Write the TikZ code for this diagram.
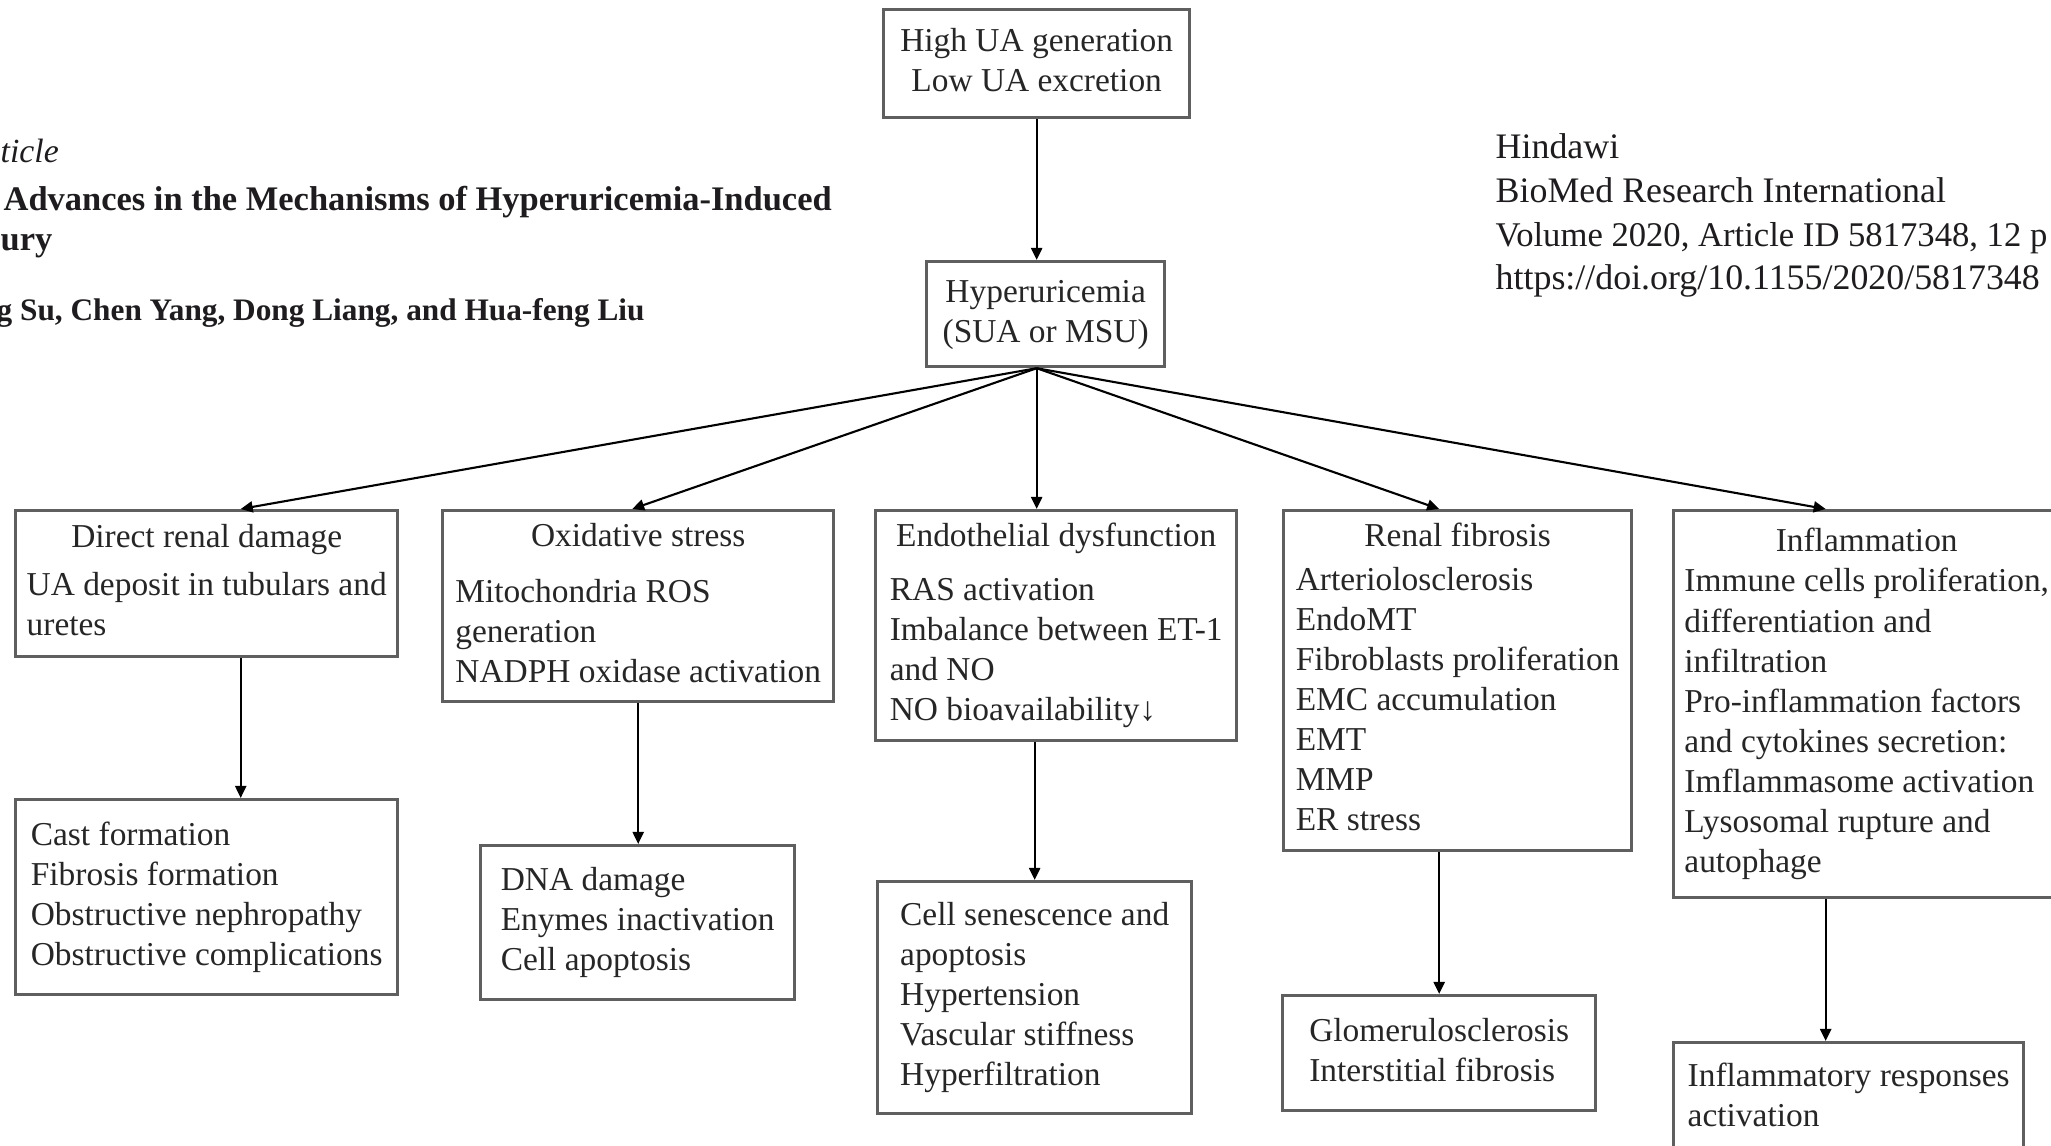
\documentclass[tikz,border=0pt]{standalone}
\usepackage{fontspec}
\setmainfont{Liberation Serif}
\usetikzlibrary{arrows.meta}
\definecolor{boxline}{RGB}{95,95,95}
\definecolor{txt}{RGB}{38,38,38}
\definecolor{pagetxt}{RGB}{30,28,30}
\begin{document}
\begin{tikzpicture}[x=0.01cm,y=-0.01cm,
  box/.style={draw=boxline, line width=0.9pt, inner sep=0pt, anchor=north west,
    font=\fontsize{9.5pt}{11.4pt}\selectfont, text=txt},
  arr/.style={draw=black, line width=0.6pt, -{Triangle[length=1.2mm,width=1.1mm]}},
  pagetext/.style={anchor=base west, inner sep=0pt, text=pagetxt}]
\useasboundingbox (0,0) rectangle (2051,1146);
\clip (0,0) rectangle (2051,1146);
\fill[white] (0,0) rectangle (2051,1146);

% page header text
\node[pagetext, font=\fontsize{9.6pt}{11pt}\selectfont\itshape] (art) at (0,163) {ticle};
\node[pagetext, font=\fontsize{9.8pt}{12pt}\selectfont\bfseries] (ttl) at (3,211) {Advances in the Mechanisms of Hyperuricemia-Induced};
\node[pagetext, font=\fontsize{9.8pt}{12pt}\selectfont\bfseries] (ttl2) at (0,251) {ury};
\node[pagetext, font=\fontsize{8.9pt}{11pt}\selectfont\bfseries] (aut) at (-4,321) {g Su, Chen Yang, Dong Liang, and Hua-feng Liu};
\node[pagetext, font=\fontsize{10.2pt}{12pt}\selectfont] (h1) at (1495,159) {Hindawi};
\node[pagetext, font=\fontsize{10.2pt}{12pt}\selectfont] (h2) at (1495,203) {BioMed Research International};
\node[pagetext, font=\fontsize{9.85pt}{12pt}\selectfont] (h3) at (1495,247) {Volume 2020, Article ID 5817348, 12 p};
\node[pagetext, font=\fontsize{10.2pt}{12pt}\selectfont] (h4) at (1495,290) {https://doi.org/10.1155/2020/5817348};

% boxes
\node[box, minimum width=3.06cm, minimum height=1.08cm] (tp) at (882,8)
  {\begin{tabular}{@{}c@{}}High UA generation\\ Low UA excretion\end{tabular}};
\node[box, minimum width=2.38cm, minimum height=1.05cm] (hy) at (925,260)
  {\begin{tabular}{@{}c@{}}Hyperuricemia\\ (SUA or MSU)\end{tabular}};

\node[box, minimum width=3.82cm, minimum height=1.46cm] (dr) at (14,509)
  {\begin{tabular}{@{}l@{}}\multicolumn{1}{@{}c@{}}{Direct renal damage}\\[2.3pt]
   UA deposit in tubulars and\\ uretes\end{tabular}};
\node[box, minimum width=3.91cm, minimum height=1.91cm] (ox) at (441,509)
  {\begin{tabular}{@{}l@{}}\multicolumn{1}{@{}c@{}}{Oxidative stress}\\[4.5pt]
   Mitochondria ROS\\ generation\\ NADPH oxidase activation\end{tabular}};
\node[box, minimum width=3.61cm, minimum height=2.30cm] (en) at (874,509)
  {\begin{tabular}{@{}l@{}}\multicolumn{1}{@{}c@{}}{Endothelial dysfunction}\\[3.7pt]
   RAS activation\\ Imbalance between ET-1\\ and NO\\ NO bioavailability↓\end{tabular}};
\node[box, minimum width=3.48cm, minimum height=3.40cm] (rf) at (1282,509)
  {\begin{tabular}{@{}l@{}}\multicolumn{1}{@{}c@{}}{Renal fibrosis}\\[1pt]
   Arteriolosclerosis\\ EndoMT\\ Fibroblasts proliferation\\ EMC accumulation\\ EMT\\ MMP\\ ER stress\end{tabular}};
\node[box, minimum width=3.86cm, minimum height=3.87cm] (in) at (1672,509)
  {\begin{tabular}{@{}l@{}}\multicolumn{1}{@{}c@{}}{Inflammation}\\
   Immune cells proliferation,\\ differentiation and\\ infiltration\\ Pro-inflammation factors\\
   and cytokines secretion:\\ Imflammasome activation\\ Lysosomal rupture and\\ autophage\end{tabular}};

\node[box, minimum width=3.82cm, minimum height=1.95cm] (cf) at (14,798)
  {\begin{tabular}{@{}l@{}}Cast formation\\ Fibrosis formation\\ Obstructive nephropathy\\ Obstructive complications\end{tabular}};
\node[box, minimum width=3.14cm, minimum height=1.54cm] (dn) at (479,844)
  {\begin{tabular}{@{}l@{}}DNA damage\\ Enymes inactivation\\ Cell apoptosis\end{tabular}};
\node[box, minimum width=3.14cm, minimum height=2.32cm] (cs) at (876,880)
  {\begin{tabular}{@{}l@{}}Cell senescence and\\ apoptosis\\ Hypertension\\ Vascular stiffness\\ Hyperfiltration\end{tabular}};
\node[box, minimum width=3.13cm, minimum height=1.15cm] (gl) at (1281,994)
  {\begin{tabular}{@{}l@{}}Glomerulosclerosis\\ Interstitial fibrosis\end{tabular}};
\node[box, minimum width=3.50cm, minimum height=1.11cm] (ir) at (1672,1041)
  {\begin{tabular}{@{}l@{}}Inflammatory responses\\ activation\end{tabular}};

% connectors
\draw[arr] (tp.south) -- (tp.south |- hy.north);
\draw[arr] (hy.south -| tp.south) -- ([xshift=0.34cm]dr.north);
\draw[arr] (hy.south -| tp.south) -- ([xshift=-0.06cm]ox.north);
\draw[arr] (hy.south -| tp.south) -- (en.north -| tp.south);
\draw[arr] (hy.south -| tp.south) -- (rf.north -| gl.north);
\draw[arr] (hy.south -| tp.south) -- ([xshift=-0.41cm]in.north);

\draw[arr] ([xshift=0.34cm]dr.south) -- ([xshift=0.34cm]dr.south |- cf.north);
\draw[arr] (ox.south) -- (ox.south |- dn.north);
\draw[arr] (cs.north |- en.south) -- (cs.north);
\draw[arr] (gl.north |- rf.south) -- (gl.north);
\draw[arr] ([xshift=-0.41cm]in.south) -- ([xshift=-0.41cm]in.south |- ir.north);
\end{tikzpicture}
\end{document}
